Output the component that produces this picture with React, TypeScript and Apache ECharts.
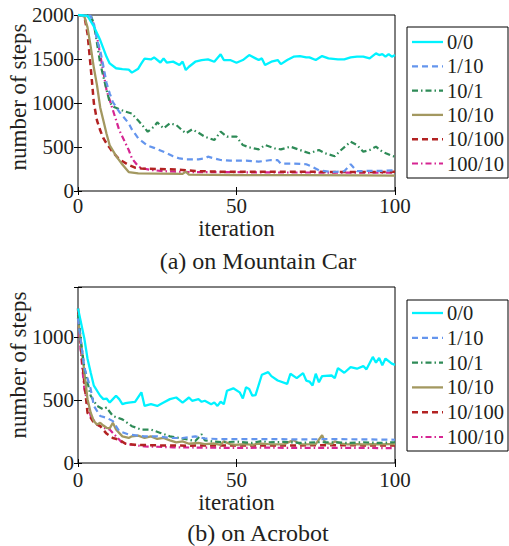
import React, { useEffect, useRef } from "react";
import * as echarts from "echarts";

const seriesNames = ["0/0", "1/10", "10/1", "10/10", "10/100", "100/10"];
const seriesColors = ["#00F2FF", "#6495ED", "#2E8B57", "#A39860", "#B22222", "#D62592"];
const xTicks = [0, 50, 100];
const yTicksTop = [0, 500, 1000, 1500, 2000];
const yTicksBottom = [0, 500, 1000];

// (a) Mountain Car — [iteration, number of steps]
const mcCyan = [[0,2000],[3,1990],[5,1870],[7,1715],[9,1525],[10,1450],[12,1395],[14,1385],[16,1380],[17,1345],[19,1390],[20,1450],[21,1505],[23,1495],[24,1518],[26,1460],[27,1505],[28,1460],[30,1470],[32,1432],[33,1470],[34,1375],[35,1412],[37,1469],[39,1488],[41,1496],[43,1469],[45,1553],[46,1488],[48,1488],[50,1458],[52,1488],[54,1545],[56,1507],[57,1488],[58,1507],[59,1431],[61,1469],[63,1488],[64,1442],[66,1488],[68,1526],[70,1533],[72,1518],[73,1518],[75,1488],[77,1533],[79,1507],[82,1496],[84,1496],[86,1518],[88,1526],[90,1526],[92,1507],[94,1564],[95,1545],[96,1556],[97,1526],[98,1556],[99,1526],[100,1545]];
const mcBlue = [[0,2000],[4,1990],[5,1900],[6,1715],[7,1600],[8,1420],[9,1230],[10,1110],[11,1010],[13,901],[16,769],[17,700],[19,600],[20,570],[22,515],[24,490],[26,460],[28,430],[30,395],[32,370],[34,360],[38,360],[40,370],[41,390],[43,370],[45,352],[48,345],[53,345],[57,333],[61,352],[63,350],[64,311],[68,311],[72,304],[74,273],[76,235],[80,215],[84,225],[86,304],[88,225],[91,228],[95,228],[100,235]];
const mcGreen = [[0,2000],[4,2000],[5,1900],[6,1677],[7,1450],[8,1300],[9,1150],[10,1010],[11,960],[13,930],[15,901],[17,880],[19,800],[20,760],[22,674],[24,731],[25,780],[27,712],[29,769],[31,750],[34,655],[36,700],[38,662],[40,617],[43,579],[45,674],[47,617],[50,617],[52,522],[54,496],[57,473],[59,522],[62,485],[64,473],[67,504],[70,466],[73,428],[76,466],[78,428],[81,395],[83,466],[86,560],[88,522],[90,447],[92,466],[94,504],[96,447],[99,400],[100,390]];
const mcOlive = [[0,2000],[2,1985],[3,1860],[4,1640],[5,1400],[6,1200],[7,950],[8,800],[9,650],[10,520],[12,400],[14,300],[16,215],[19,200],[33,195],[34,220],[35,185],[50,182],[70,180],[90,178],[100,175]];
const mcRed = [[0,2000],[2,1990],[3,1790],[4,1410],[5,1000],[6,800],[7,690],[8,600],[9,540],[10,490],[11,440],[13,360],[16,295],[18,265],[20,255],[26,250],[33,240],[37,227],[45,220],[55,220],[65,218],[75,218],[85,215],[95,215],[100,218]];
const mcMagenta = [[0,2000],[3,1980],[4,1960],[5,1880],[6,1750],[7,1550],[8,1350],[9,1147],[11,920],[13,693],[16,466],[17,371],[19,280],[20,260],[23,239],[27,225],[35,215],[45,215],[55,212],[65,210],[75,210],[85,208],[95,208],[100,210]];

// (b) Acrobot — [iteration, number of steps]
const acCyan = [[0,1230],[2,990],[3,830],[4,720],[5,615],[7,535],[8,508],[9,513],[10,481],[11,508],[12,535],[13,508],[14,468],[15,476],[16,481],[18,487],[20,562],[21,454],[23,468],[25,454],[27,481],[29,508],[31,521],[33,481],[35,521],[36,495],[38,508],[39,487],[40,495],[42,468],[43,481],[44,454],[45,487],[46,468],[47,575],[49,594],[51,562],[52,513],[53,602],[54,589],[55,535],[56,540],[58,702],[60,723],[61,691],[63,656],[66,629],[67,710],[69,675],[71,715],[72,656],[73,648],[74,616],[75,710],[76,642],[77,691],[80,696],[81,675],[82,755],[84,718],[86,763],[88,750],[90,771],[91,745],[93,844],[94,798],[95,836],[96,777],[97,831],[99,790],[100,780]];
const acBlue = [[0,1150],[1,950],[2,760],[4,589],[5,454],[7,374],[9,360],[11,333],[13,253],[16,226],[21,212],[25,212],[29,199],[33,199],[37,212],[40,195],[45,190],[50,190],[60,190],[70,188],[80,190],[90,188],[100,185]];
const acGreen = [[0,1180],[1,950],[2,760],[3,642],[4,535],[6,454],[8,427],[9,441],[11,374],[14,347],[17,293],[20,266],[23,266],[26,239],[29,212],[32,199],[35,185],[37,175],[39,229],[40,180],[43,170],[46,165],[50,170],[55,160],[58,175],[60,165],[65,168],[70,160],[75,165],[80,165],[85,160],[90,165],[95,160],[100,165]];
const acOlive = [[0,1150],[1,950],[2,723],[3,508],[4,400],[5,333],[6,306],[7,320],[8,298],[9,280],[10,275],[11,320],[12,266],[14,212],[16,199],[17,212],[19,218],[21,199],[23,212],[25,191],[27,199],[29,180],[31,164],[33,172],[35,153],[38,160],[40,150],[43,155],[45,145],[46,172],[48,150],[50,145],[53,150],[55,145],[57,155],[60,150],[63,148],[65,150],[68,182],[70,150],[72,148],[75,150],[77,222],[78,160],[80,150],[81,172],[83,155],[85,148],[88,150],[90,148],[93,150],[95,148],[98,150],[100,150]];
const acRed = [[0,1230],[1,900],[2,642],[3,400],[5,320],[7,293],[9,234],[11,199],[13,185],[15,153],[18,145],[25,140],[35,138],[50,140],[60,140],[70,140],[80,142],[90,140],[100,140]];
const acMagenta = [[0,1150],[1,850],[2,589],[4,374],[6,306],[8,280],[10,266],[12,212],[14,159],[17,145],[21,132],[30,125],[40,122],[50,120],[60,122],[70,120],[80,120],[90,120],[100,118]];

const FONT = "Liberation Serif";
const INK = "#231f20";

export default function App() {
  const ref = useRef<HTMLDivElement>(null);
  useEffect(() => {
    if (!ref.current) return;
    const chart = echarts.init(ref.current, undefined, { renderer: "svg" });
    const dash = [6, 4];
    const dashDot = [6, 3, 1.5, 3];
    const styles: any[] = [
      { type: "solid", width: 2.3 },
      { type: dash, width: 2.2 },
      { type: dashDot, width: 2.2 },
      { type: "solid", width: 2.3 },
      { type: dash, width: 2.5 },
      { type: dashDot, width: 2.2 },
    ];
    const topData = [mcCyan, mcBlue, mcGreen, mcOlive, mcRed, mcMagenta];
    const botData = [acCyan, acBlue, acGreen, acOlive, acRed, acMagenta];
    const mk = (data: number[][], i: number, ax: number) => ({
      type: "line",
      name: seriesNames[i],
      xAxisIndex: ax,
      yAxisIndex: ax,
      data,
      symbol: "none",
      showSymbol: false,
      lineStyle: { color: seriesColors[i], ...styles[i] },
      itemStyle: { color: seriesColors[i] },
      z: 10 - i,
    });
    const series: any[] = [];
    topData.forEach((d, i) => series.push(mk(d, i, 0)));
    botData.forEach((d, i) => series.push(mk(d, i, 2)));

    const tick = { show: true, inside: true, length: 4, lineStyle: { color: "#000", width: 1 } };
    const label = { fontFamily: FONT, fontSize: 21, color: INK };
    const xMain = (g: number, gap: number, lm: number) => ({
      gridIndex: g, type: "value", min: xTicks[0], max: xTicks[xTicks.length - 1], interval: 50, position: "bottom",
      axisLine: { show: false }, axisTick: tick, splitLine: { show: false },
      axisLabel: { ...label, margin: lm },
      name: "iteration", nameLocation: "middle", nameGap: gap,
      nameTextStyle: { fontFamily: FONT, fontSize: 23, color: INK },
    });
    const xMirror = (g: number) => ({
      gridIndex: g, type: "value", min: 0, max: 100, interval: 50, position: "top",
      axisLine: { show: false }, axisTick: tick, splitLine: { show: false }, axisLabel: { show: false },
    });
    const yMain = (g: number, max: number, ticks: number[]) => ({
      gridIndex: g, type: "value", min: 0, max, interval: 500, position: "left",
      axisLine: { show: false }, axisTick: tick, splitLine: { show: false },
      axisLabel: { ...label, margin: 4, formatter: (v: number) => (ticks.indexOf(v) >= 0 ? String(v) : "") },
    });
    const yMirror = (g: number, max: number) => ({
      gridIndex: g, type: "value", min: 0, max, interval: 500, position: "right",
      axisLine: { show: false }, axisTick: tick, splitLine: { show: false }, axisLabel: { show: false },
    });
    const legendGraphic = (top: number, bottom: number, rows: number[]) => {
      const children: any[] = [
        { type: "rect", shape: { x: 407, y: top, width: 101, height: bottom - top }, style: { fill: "#fff", stroke: "#000", lineWidth: 1 } },
      ];
      seriesNames.forEach((name, i) => {
        const y = rows[i];
        const st = styles[i];
        children.push({
          type: "line",
          shape: { x1: 412, y1: y, x2: 443, y2: y },
          style: { stroke: seriesColors[i], lineWidth: st.width, lineDash: st.type === "solid" ? null : st.type },
        });
        children.push({
          type: "text", x: 447, y,
          style: { text: name, fontFamily: FONT, fontSize: 20.5, fill: INK, align: "left", verticalAlign: "middle" },
        });
      });
      return { type: "group", children };
    };
    const yName = (text: string, y: number) => ({
      type: "text", x: 18, y, rotation: Math.PI / 2,
      style: { text, fontFamily: FONT, fontSize: 23, fill: INK, align: "center", verticalAlign: "middle" },
    });
    const caption = (text: string, y: number) => ({
      type: "text", x: 258, y,
      style: { text, fontFamily: FONT, fontSize: 24, fill: INK, align: "center", verticalAlign: "middle" },
    });
    chart.setOption({
      animation: false,
      backgroundColor: "#fff",
      textStyle: { fontFamily: FONT },
      grid: [
        { left: 78, top: 15, width: 317, height: 176, show: true, borderColor: "#000", borderWidth: 1, backgroundColor: "transparent" },
        { left: 78, top: 287, width: 317, height: 176, show: true, borderColor: "#000", borderWidth: 1, backgroundColor: "transparent" },
      ],
      xAxis: [xMain(0, 20, 4), xMirror(0), xMain(1, 22, 6), xMirror(1)],
      yAxis: [yMain(0, 2000, yTicksTop), yMirror(0, 2000), yMain(1, 1400, yTicksBottom), yMirror(1, 1400)],
      series,
      graphic: [
        yName("number of steps", 97),
        yName("number of steps", 365),
        caption("(a) on Mountain Car", 261),
        caption("(b) on Acrobot", 533),
        legendGraphic(27, 178, [42, 66.3, 90.6, 114.9, 139.2, 163.5]),
        legendGraphic(300, 451, [313, 337.8, 362.6, 387.4, 412.2, 437]),
      ],
    });
    return () => chart.dispose();
  }, []);
  return <div ref={ref} style={{ position: "absolute", left: 0, top: 0, width: 509, height: 546 }} />;
}
